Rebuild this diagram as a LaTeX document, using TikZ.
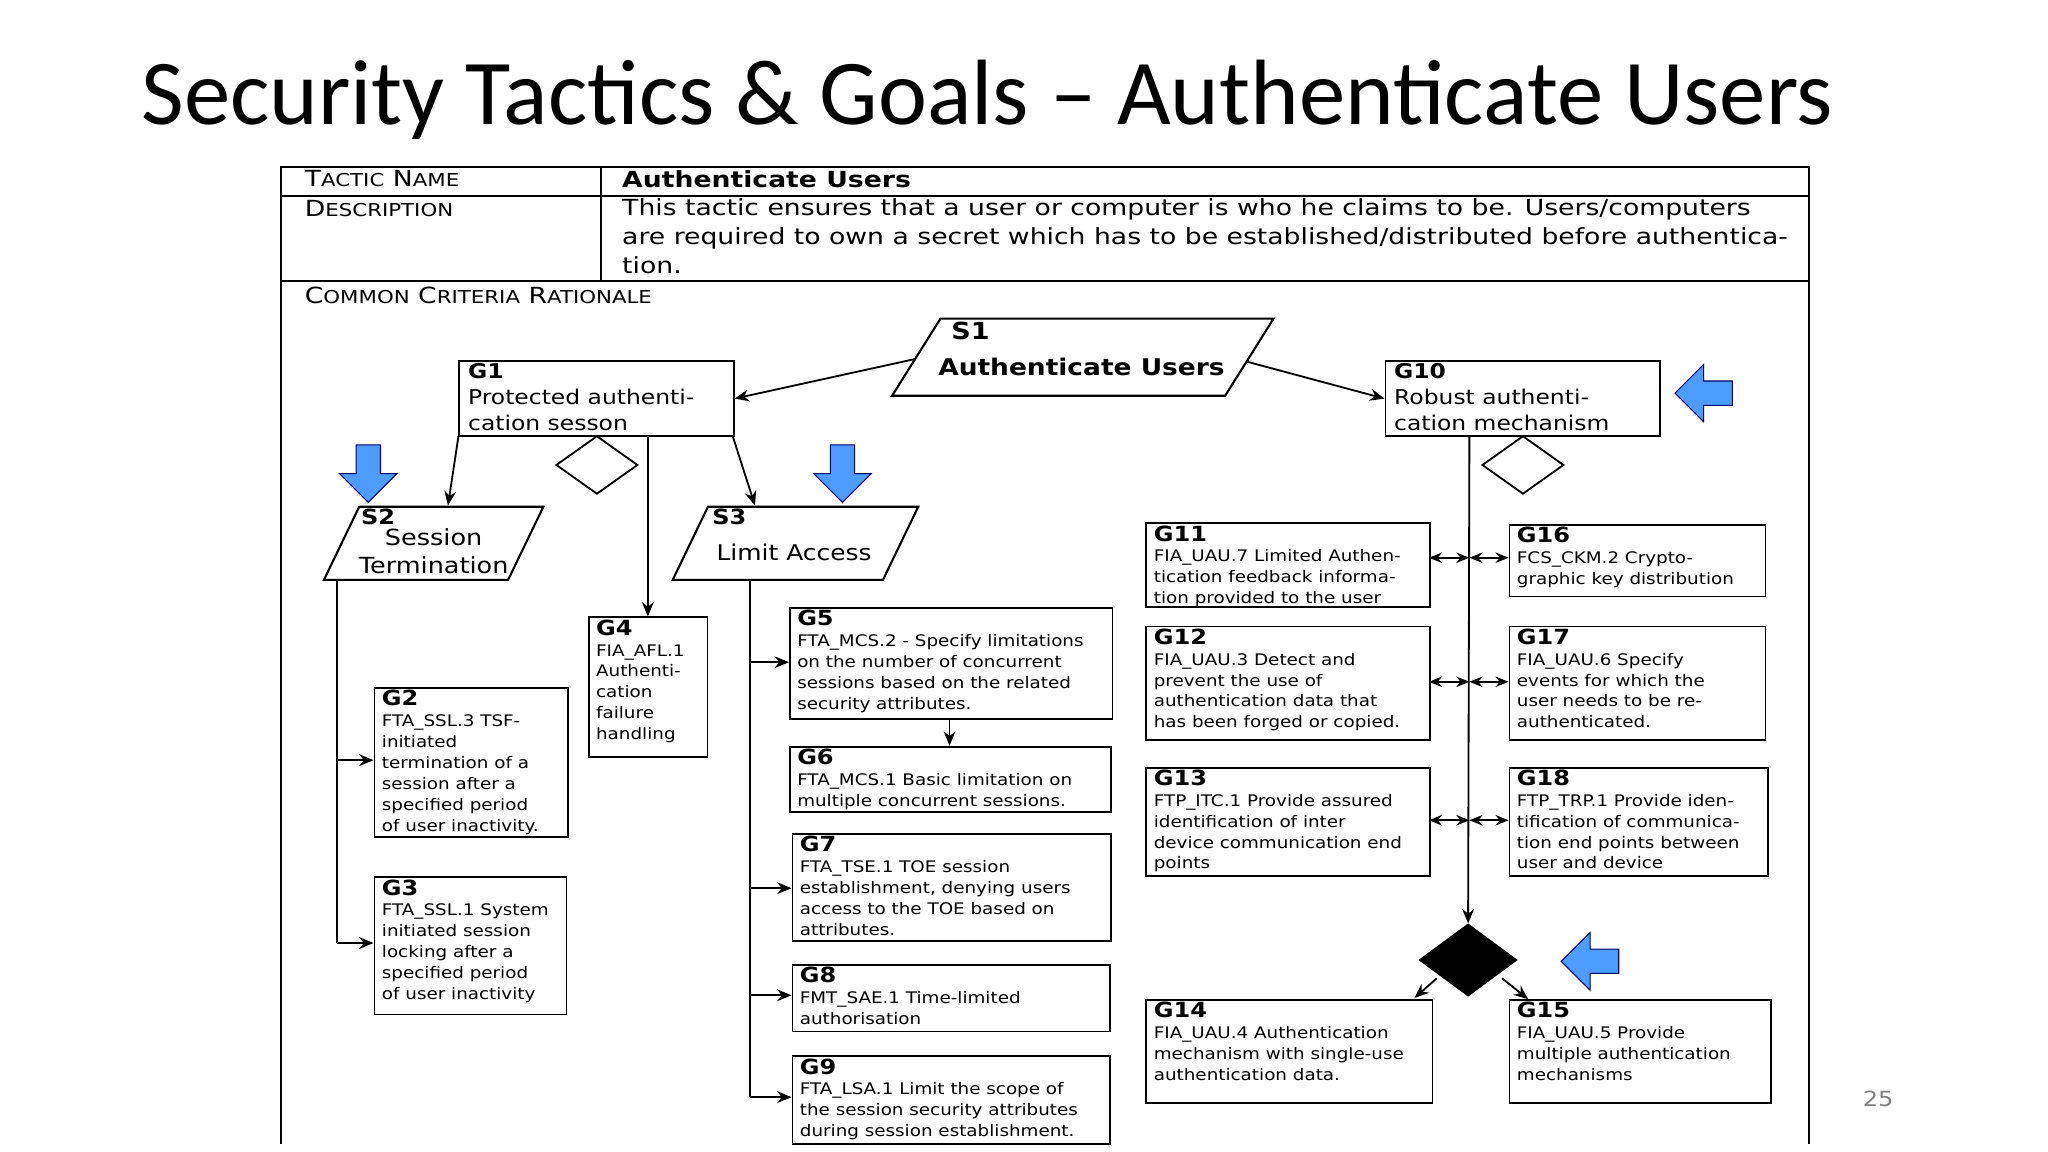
\documentclass[tikz,border=0pt]{standalone}
\usepackage{fontspec}
\setmainfont[FakeStretch=1.15]{DejaVu Sans}
\newfontfamily\widefont[FakeStretch=1.2]{DejaVu Sans}
\newfontfamily\titlefont{Carlito}
\usetikzlibrary{arrows.meta,shapes.arrows}
\begin{document}
\begin{tikzpicture}[x=0.5pt,y=-0.5pt,
  bx/.style={draw,line width=0.7pt,inner sep=0pt,anchor=north west},
  tx/.style={anchor=north west,align=left,inner sep=0pt,font=\fontsize{6.1}{8}\selectfont},
  bigtx/.style={anchor=north west,align=left,inner sep=0pt,font=\fontsize{7.8}{10}\selectfont},
  arr/.style={-{Stealth[length=5.5pt,width=4.5pt]},line width=0.7pt},
  darr/.style={{Stealth[length=5pt,width=4pt]}-{Stealth[length=5pt,width=4pt]},line width=0.7pt},
  ln/.style={line width=0.7pt},
  blue/.style={single arrow,draw=blue!40!black,fill=blue!55!cyan!70!white,line width=0.4pt,minimum height=22pt,minimum width=22pt,single arrow head extend=3pt,inner sep=2pt}]
\useasboundingbox (0,0) rectangle (1568,882);
\newcommand\bxx[6]{\node[bx,minimum width={(#4-#2)*0.5pt},minimum height={(#5-#3)*0.5pt}] (#1) at (#2,#3) {};
  \node[tx] (#1t) at ({#2+6},{#3+2}) {#6};}
\node[anchor=base west,inner sep=0pt,font=\titlefont\fontsize{35.5}{40}\selectfont] (title) at (108,95) {Security Tactics \& Goals – Authenticate Users};
% table
\draw[line width=0.8pt] (215,876) -- (215,128) -- (1385,128) -- (1385,876);
\draw[line width=0.8pt] (215,150) -- (1385,150) (215,215) -- (1385,215) (460,128) -- (460,215);
\node[anchor=north west,inner sep=0pt,font=\widefont\fontsize{8.5}{11}\selectfont] (tn) at (233,130) {T\scalebox{0.8}{ACTIC} N\scalebox{0.8}{AME}};
\node[anchor=north west,inner sep=0pt,font=\widefont\fontsize{8.5}{11}\selectfont] (de) at (233,153) {D\scalebox{0.8}{ESCRIPTION}};
\node[anchor=north west,inner sep=0pt,font=\widefont\fontsize{8.5}{11}\selectfont] (cc) at (233,219) {C\scalebox{0.8}{OMMON} C\scalebox{0.8}{RITERIA} R\scalebox{0.8}{ATIONALE}};
\node[anchor=north west,inner sep=0pt,font=\widefont\bfseries\fontsize{8.5}{11}\selectfont] (au) at (476,130) {Authenticate Users};
\node[anchor=north west,align=left,inner sep=0pt,font=\widefont\fontsize{8.5}{11}\selectfont] (desc) at (476,152) {This tactic ensures that a user or computer is who he claims to be. Users/computers\\are required to own a secret which has to be established/distributed before authentica-\\tion.};
% S1
\draw[line width=0.8pt] (683,303) -- (720,244) -- (975,244) -- (938,303) -- cycle;
\node[anchor=north west,inner sep=0pt,font=\bfseries\fontsize{9}{11}\selectfont] (s1a) at (728,246) {S1};
\node[anchor=center,inner sep=0pt,font=\bfseries\fontsize{8.8}{11}\selectfont] (s1) at (828,281) {Authenticate Users};
\coordinate (s1l) at (700,275); \coordinate (s1r) at (955,277);
% G1 G10
\node[bx,minimum width=105pt,minimum height=28.5pt] (g1) at (351,276) {};
\node[bigtx] (g1t) at (358,278) {\textbf{G1}\\Protected authenti-\\cation sesson};
\node[bx,minimum width=105pt,minimum height=28.5pt] (g10) at (1060,276) {};
\node[bigtx] (g10t) at (1067,278) {\textbf{G10}\\Robust authenti-\\cation mechanism};
\draw[arr] (s1l) -- (g1.east);
\draw[arr] (s1r) -- (g10.west);
\draw[ln] (457,334) -- (488,356) -- (457,378) -- (426,356) -- cycle;
\draw[ln] (1166,334) -- (1197,356) -- (1166,378) -- (1135,356) -- cycle;
% S2 S3
\draw[line width=0.8pt] (248,444) -- (275,388) -- (416,388) -- (389,444) -- cycle;
\node[anchor=north west,inner sep=0pt,font=\bfseries\fontsize{8}{10}\selectfont] (s2a) at (276,389) {S2};
\node[align=center,inner sep=0pt,font=\fontsize{8.5}{10.5}\selectfont] (s2) at (332,422) {Session\\Termination};
\draw[line width=0.8pt] (515,444) -- (542,388) -- (703,388) -- (676,444) -- cycle;
\node[anchor=north west,inner sep=0pt,font=\bfseries\fontsize{8}{10}\selectfont] (s3a) at (545,389) {S3};
\node[inner sep=0pt,font=\fontsize{8.3}{10.5}\selectfont] (s3) at (608,423) {Limit Access};
\coordinate (s2top) at (343,387); \coordinate (s3top) at (578,387);
\draw[arr] (351,334) -- (s2top);
\draw[arr] (561,334) -- (s3top);
% boxes
\bxx{g4}{450}{472}{541}{579}{\textbf{\fontsize{8}{8}\selectfont G4}\\FIA\_AFL.1\\Authenti-\\cation\\failure\\handling}
\draw[arr] (496,334) -- (g4.north -| 496,0);
\bxx{g2}{286}{526}{434}{640}{\textbf{\fontsize{8}{8}\selectfont G2}\\FTA\_SSL.3 TSF-\\initiated\\termination of a\\session after a\\specified period\\of user inactivity.}
\bxx{g3}{286}{671}{433}{776}{\textbf{\fontsize{8}{8}\selectfont G3}\\FTA\_SSL.1 System\\initiated session\\locking after a\\specified period\\of user inactivity}
\coordinate (s2l) at (258,444);
\draw[ln] (s2l) -- (258,722);
\draw[arr] (258,582) -- (g2.west |- 0,582);
\draw[arr] (258,722) -- (g3.west |- 0,722);
\bxx{g5}{604}{465}{851}{550}{\textbf{\fontsize{8}{8}\selectfont G5}\\FTA\_MCS.2 - Specify limitations\\on the number of concurrent\\sessions based on the related\\security attributes.}
\bxx{g6}{604}{571}{850}{621}{\textbf{\fontsize{8}{8}\selectfont G6}\\FTA\_MCS.1 Basic limitation on\\multiple concurrent sessions.}
\bxx{g7}{606}{638}{850}{720}{\textbf{\fontsize{8}{8}\selectfont G7}\\FTA\_TSE.1 TOE session\\establishment, denying users\\access to the TOE based on\\attributes.}
\bxx{g8}{606}{738}{849}{789}{\textbf{\fontsize{8}{8}\selectfont G8}\\FMT\_SAE.1 Time-limited\\authorisation}
\bxx{g9}{606}{808}{849}{875}{\textbf{\fontsize{8}{8}\selectfont G9}\\FTA\_LSA.1 Limit the scope of\\the session security attributes\\during session establishment.}
\draw[arr] (727,550) -- (727,571);
\coordinate (s3l) at (574,444);
\draw[ln] (s3l) -- (574,840);
\draw[arr] (574,507) -- (604,507);
\draw[arr] (574,680) -- (606,680);
\draw[arr] (574,762) -- (606,762);
\draw[arr] (574,840) -- (606,840);
% right
\bxx{g11}{877}{400}{1094}{464}{\textbf{\fontsize{8}{8}\selectfont G11}\\FIA\_UAU.7 Limited Authen-\\tication feedback informa-\\tion provided to the user}
\bxx{g16}{1155}{401}{1351}{456}{\textbf{\fontsize{8}{8}\selectfont G16}\\FCS\_CKM.2 Crypto-\\graphic key distribution}
\bxx{g12}{877}{479}{1094}{566}{\textbf{\fontsize{8}{8}\selectfont G12}\\FIA\_UAU.3 Detect and\\prevent the use of\\authentication data that\\has been forged or copied.}
\bxx{g17}{1155}{479}{1351}{566}{\textbf{\fontsize{8}{8}\selectfont G17}\\FIA\_UAU.6 Specify\\events for which the\\user needs to be re-\\authenticated.}
\bxx{g13}{877}{587}{1094}{670}{\textbf{\fontsize{8}{8}\selectfont G13}\\FTP\_ITC.1 Provide assured\\identification of inter\\device communication end\\points}
\bxx{g18}{1155}{587}{1353}{670}{\textbf{\fontsize{8}{8}\selectfont G18}\\FTP\_TRP.1 Provide iden-\\tification of communica-\\tion end points between\\user and device}
\bxx{g14}{877}{765}{1096}{844}{\textbf{\fontsize{8}{8}\selectfont G14}\\FIA\_UAU.4 Authentication\\mechanism with single-use\\authentication data.}
\bxx{g15}{1155}{765}{1355}{844}{\textbf{\fontsize{8}{8}\selectfont G15}\\FIA\_UAU.5 Provide\\multiple authentication\\mechanisms}
\fill (1124,707) -- (1162,735) -- (1124,763) -- (1086,735) -- cycle;
\coordinate (dtop) at (1124,707);
\draw[arr] (1125,334) -- (dtop);
\foreach \y in {427,522,628}{
  \draw[darr] (1094,\y) -- (1125,\y);
  \draw[darr] (1125,\y) -- (1155,\y);}
\draw[arr] (1100,749) -- (1083,764);
\draw[arr] (1150,749) -- (1170,765);
% blue arrows
\node[blue,shape border rotate=270] (b1) at (282,358) {};
\node[blue,shape border rotate=270] (b2) at (645,358) {};
\node[blue,shape border rotate=180] (b3) at (1309,301) {};
\node[blue,shape border rotate=180] (b4) at (1222,736) {};
\node[inner sep=0pt,text=gray,font=\fontsize{8}{10}\selectfont] (pg) at (1438,841) {25};
\end{tikzpicture}
\end{document}
